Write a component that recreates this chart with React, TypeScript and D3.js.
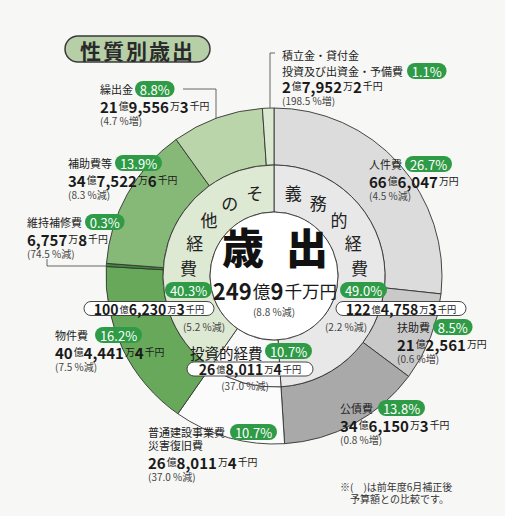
import * as d3 from 'd3';

const outerNames = ['人件費', '扶助費', '公債費', '普通建設事業費\n災害復旧費', '物件費', '維持補修費', '補助費等', '繰出金', '積立金・貸付金\n投資及び出資金・予備費'];
const outerShares = [26.7, 8.5, 13.8, 10.7, 16.2, 0.3, 13.9, 8.8, 1.1];
const outerAmounts = ['66億6,047万円', '21億2,561万円', '34億6,150万3千円', '26億8,011万4千円', '40億4,441万4千円', '6,757万8千円', '34億7,522万6千円', '21億9,556万3千円', '2億7,952万2千円'];
const outerChanges = ['(4.5 %減)', '(0.6 %増)', '(0.8 %増)', '(37.0 %減)', '(7.5 %減)', '(74.5 %減)', '(8.3 %減)', '(4.7 %増)', '(198.5 %増)'];

const innerNames = ['義務的経費', '投資的経費', 'その他経費'];
const innerShares = [49.0, 10.7, 40.3];
const innerAmounts = ['122億4,758万3千円', '26億8,011万4千円', '100億6,230万3千円'];
const innerChanges = ['(2.2 %減)', '(37.0 %減)', '(5.2 %減)'];

const totalTitle = '歳出';
const totalAmount = '249億9千万円';
const totalChange = '(8.8 %減)';

const outerColors = ['#dcdcdc', '#c9c9c9', '#a9a9a9', '#fbfbfb', '#68a85a', '#3e8a3a', '#86b878', '#bad5aa', '#dce9d1'];
const innerColors = ['#e8e8e8', '#f9f9f9', '#dde9d3'];

// label placement (text y = centre of first line)
const outerLabelPos = [
  { x: 369, y: 164, badgeX: 405, badgeLine: 0 },
  { x: 397, y: 327, badgeX: 433, badgeLine: 0 },
  { x: 340, y: 408, badgeX: 378, badgeLine: 0 },
  { x: 148, y: 432, badgeX: 230, badgeLine: 0, gap: 13 },
  { x: 55, y: 335, badgeX: 95, badgeLine: 0 },
  { x: 27, y: 222, badgeX: 85, badgeLine: 0 },
  { x: 68, y: 163, badgeX: 115, badgeLine: 0 },
  { x: 100, y: 89, badgeX: 135, badgeLine: 0 },
  { x: 282, y: 55, badgeX: 407, badgeLine: 1, gap: 16, amountDy: 15 },
];

const width = 505;
const height = 516;
const cx = 274;
const cy = 276;
const r0 = 64;
const r1 = 111;
const r2 = 168;
const font = "'Noto Sans CJK JP', 'Noto Sans', sans-serif";
const green = '#2f9b47';

const Amount = ({ x, y, text, size = 16, anchor = 'start', unit = 0.66 }) => {
  const parts = text.match(/[\d,]+|[^\d,]+/g);
  return (
    <text x={x} y={y} dominantBaseline="central" textAnchor={anchor} fill="#1a1a1a">
      {parts.map((p, i) => /\d/.test(p)
        ? <tspan key={i} fontSize={size} fontWeight="bold">{p}</tspan>
        : <tspan key={i} fontSize={size * unit} dx={1}>{p}</tspan>)}
    </text>
  );
};

const Badge = ({ x, y, text }) => {
  const w = 10 + text.length * 7.4;
  return (
    <g>
      <rect x={x} y={y - 8} width={w} height={16} rx={8} fill={green} />
      <text x={x + w / 2} y={y + 0.5} textAnchor="middle" dominantBaseline="central" fill="#fff" fontSize={13}>{text}</text>
    </g>
  );
};

const Pill = ({ x, y, w, text }) => (
  <g>
    <rect x={x} y={y - 7} width={w} height={14} rx={7} fill="#fff" stroke="#333" strokeWidth={0.9} />
    <Amount x={x + w / 2} y={y} text={text} size={14} anchor="middle" />
  </g>
);

export default function App() {
  const pie = d3.pie<number>().sort(null).value((d) => d);
  const outerArcs = pie(outerShares);
  const innerArcs = pie(innerShares);
  const arcOuter = d3.arc().innerRadius(r1).outerRadius(r2);
  const arcInner = d3.arc().innerRadius(r0).outerRadius(r1);

  const edgeY = (x) => cy - Math.sqrt(r2 * r2 - (x - cx) * (x - cx));
  const edgeX = (y) => cx - Math.sqrt(r2 * r2 - (y - cy) * (y - cy));

  const ringAngles = [13, 31, 49, 67, 84];
  const ringChars = (name, side) => name.split('').map((ch, i) => {
    const a = (side * ringAngles[i] * Math.PI) / 180;
    return (
      <text key={ch + i} x={cx + Math.sin(a) * 86} y={cy - Math.cos(a) * 86}
        textAnchor="middle" dominantBaseline="central" fontSize={17} fill="#222">{ch}</text>
    );
  });

  return (
    <svg width={width} height={height} style={{ position: 'absolute', left: 0, top: 0 }} fontFamily={font}>
      <rect width={width} height={height} fill="#f7f7f5" />

      {/* title */}
      <rect x={65} y={36} width={145} height={26} rx={13} fill="#b6cfa6" stroke="#3a3a3a" strokeWidth={1.5} />
      <text x={137.5} y={49.5} textAnchor="middle" dominantBaseline="central" fontSize={21} fontWeight="bold" letterSpacing={2} fill="#2a2a2a">性質別歳出</text>

      <g transform={`translate(${cx},${cy})`}>
        {outerArcs.map((a, i) => (
          <path key={outerNames[i]} d={arcOuter(a)} fill={outerColors[i]} stroke="#333" strokeWidth={0.9} />
        ))}
        {innerArcs.map((a, i) => (
          <path key={innerNames[i]} d={arcInner(a)} fill={innerColors[i]} stroke="#333" strokeWidth={0.9} />
        ))}
        <circle r={r0} fill="#fff" stroke="#333" strokeWidth={0.9} />
      </g>

      {/* leader lines */}
      <path d={`M183,89 H216 V${edgeY(216)}`} fill="none" stroke="#555" strokeWidth={0.9} />
      <path d={`M275,53 H270 V${edgeY(270)}`} fill="none" stroke="#555" strokeWidth={0.9} />
      <path d={`M47,259 V266 H${edgeX(266)}`} fill="none" stroke="#555" strokeWidth={0.9} />

      {/* ring captions */}
      {ringChars(innerNames[0], 1)}
      {ringChars(innerNames[2], -1)}

      {/* centre */}
      <text x={cx + 1} y={245} textAnchor="middle" dominantBaseline="central" fontSize={42} fontWeight="900" letterSpacing={22} dx={11} fill="#111">{totalTitle}</text>
      <Amount x={cx + 1} y={290} text={totalAmount} size={22} anchor="middle" unit={0.8} />
      <text x={cx} y={311} textAnchor="middle" dominantBaseline="central" fontSize={10} fill="#444">{totalChange}</text>

      {/* inner summaries */}
      <Badge x={165} y={290} text={`${innerShares[2].toFixed(1)}%`} />
      <Pill x={84} y={308.5} w={130} text={innerAmounts[2]} />
      <text x={204} y={326} textAnchor="middle" dominantBaseline="central" fontSize={10} fill="#444">{innerChanges[2]}</text>

      <Badge x={340} y={290} text={`${innerShares[0].toFixed(1)}%`} />
      <Pill x={336} y={308.5} w={130} text={innerAmounts[0]} />
      <text x={346} y={326} textAnchor="middle" dominantBaseline="central" fontSize={10} fill="#444">{innerChanges[0]}</text>

      <text x={190} y={352} dominantBaseline="central" fontSize={14.5} fill="#1a1a1a">{innerNames[1]}</text>
      <Badge x={265} y={351} text={`${innerShares[1].toFixed(1)}%`} />
      <Pill x={187} y={369} w={126} text={innerAmounts[1]} />
      <text x={245} y={385} textAnchor="middle" dominantBaseline="central" fontSize={10} fill="#444">{innerChanges[1]}</text>

      {/* outer labels */}
      {outerNames.map((name, i) => {
        const p = outerLabelPos[i];
        const lines = name.split('\n');
        const gap = p.gap ?? 16;
        const last = p.y + (lines.length - 1) * gap;
        const aY = last + (p.amountDy ?? 17);
        return (
          <g key={name}>
            {lines.map((ln, j) => (
              <text key={ln} x={p.x} y={p.y + j * gap} dominantBaseline="central" fontSize={11} fill="#222">{ln}</text>
            ))}
            <Badge x={p.badgeX} y={p.y + p.badgeLine * gap} text={`${outerShares[i].toFixed(1)}%`} />
            <Amount x={p.x} y={aY} text={outerAmounts[i]} size={15} />
            <text x={p.x} y={aY + 14} dominantBaseline="central" fontSize={10} fill="#444">{outerChanges[i]}</text>
          </g>
        );
      })}

      {/* footnote */}
      <text x={340} y={486} dominantBaseline="central" fontSize={10} fill="#333">※(　)は前年度6月補正後</text>
      <text x={350} y={498} dominantBaseline="central" fontSize={10} fill="#333">予算額との比較です。</text>
    </svg>
  );
}
